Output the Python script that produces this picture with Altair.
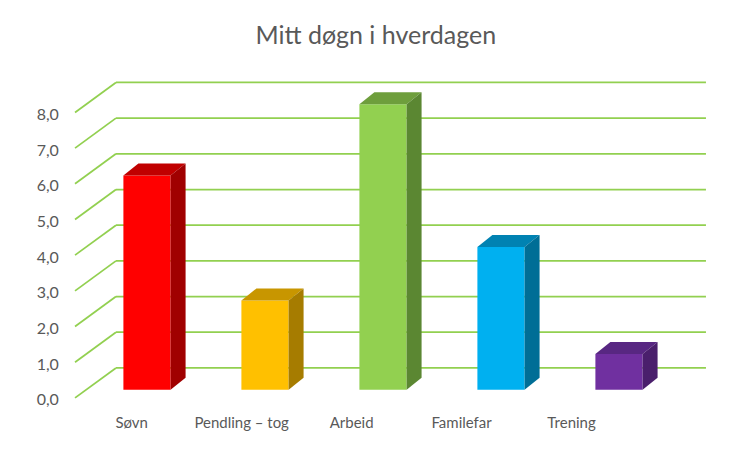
import altair as alt
import pandas as pd

# ---- data ----
categories = ["Søvn", "Pendling – tog", "Arbeid", "Familefar", "Trening"]
hours = [6.0, 2.5, 8.0, 4.0, 1.0]
front_colors = ["#FF0000", "#FFC000", "#92D050", "#00B0F0", "#7030A0"]
top_colors = ["#C00000", "#C89600", "#6E9E3C", "#0082B2", "#582782"]
side_colors = ["#A00000", "#A67C00", "#5B8732", "#006E96", "#4A1F6C"]
y_ticks = [0, 1, 2, 3, 4, 5, 6, 7, 8]
title_text = "Mitt døgn i hverdagen"

# ---- oblique projection constants (in scale units) ----
BAR_HALF = 0.2      # half width of a column front face (category units)
DEPTH_X = 0.127     # column depth shift in x
DEPTH_Y = 0.336     # column depth shift in y (value units)
BASE = 0.23         # column base, raised because columns sit behind the front plane
WALL_X = 0.347      # back wall shift in x
WALL_Y = 0.84       # back wall shift in y
WALL_LEFT = -0.61
WALL_RIGHT = 4.737
LABEL_X0 = -0.13
LABEL_STEP = 0.932
LABEL_Y = -0.70

GRID = "#92D050"
TEXT = "#595959"
FONT = "Lato"

xs = alt.Scale(domain=[-0.65, 4.85], nice=False, zero=False)
ys = alt.Scale(domain=[-1.0, 9.2], nice=False, zero=False)

# gridlines
grid_rows = []
for v in y_ticks:
    grid_rows.append({"v": v, "x": WALL_LEFT, "x2": WALL_LEFT + WALL_X,
                      "y": v, "y2": v + WALL_Y})
grid_df = pd.DataFrame(grid_rows)
back_df = pd.DataFrame({"v": y_ticks,
                        "x": [WALL_LEFT + WALL_X] * len(y_ticks),
                        "x2": [WALL_RIGHT] * len(y_ticks),
                        "y": [v + WALL_Y for v in y_ticks]})

# column faces
front_rows, top_rows, side_rows = [], [], []
for i, (c, h) in enumerate(zip(categories, hours)):
    top = BASE + h
    front_rows.append({"cat": c, "x": i - BAR_HALF, "x2": i + BAR_HALF,
                       "y": BASE, "y2": top, "col": front_colors[i]})
    x0, x1 = i - BAR_HALF, i + BAR_HALF
    top_rows += [
        {"cat": c, "x": x0, "lo": top, "hi": top, "col": top_colors[i]},
        {"cat": c, "x": x0 + DEPTH_X, "lo": top, "hi": top + DEPTH_Y, "col": top_colors[i]},
        {"cat": c, "x": x1, "lo": top, "hi": top + DEPTH_Y, "col": top_colors[i]},
        {"cat": c, "x": x1 + DEPTH_X, "lo": top + DEPTH_Y, "hi": top + DEPTH_Y, "col": top_colors[i]},
    ]
    side_rows += [
        {"cat": c, "x": x1, "lo": BASE, "hi": top, "col": side_colors[i]},
        {"cat": c, "x": x1 + DEPTH_X, "lo": BASE + DEPTH_Y, "hi": top + DEPTH_Y, "col": side_colors[i]},
    ]
front_df = pd.DataFrame(front_rows)
top_df = pd.DataFrame(top_rows)
side_df = pd.DataFrame(side_rows)
label_df = pd.DataFrame({"cat": categories,
                         "x": [LABEL_X0 + LABEL_STEP * i for i in range(len(categories))],
                         "y": [LABEL_Y] * len(categories)})

yaxis = alt.Axis(values=y_ticks, labelExpr="replace(format(datum.value, '.1f'), '.', ',')",
                 domain=False, ticks=False, grid=False, title=None, labelPadding=12,
                 labelOffset=2, labelFontSize=16, labelColor=TEXT, labelFont=FONT)

diag = alt.Chart(grid_df).mark_rule(color=GRID, strokeWidth=1.75).encode(
    x=alt.X("x:Q", scale=xs, axis=None), x2="x2:Q",
    y=alt.Y("y:Q", scale=ys, axis=yaxis), y2="y2:Q")

back = alt.Chart(back_df).mark_rule(color=GRID, strokeWidth=1.75).encode(
    x=alt.X("x:Q", scale=xs, axis=None), x2="x2:Q",
    y=alt.Y("y:Q", scale=ys, axis=yaxis))

front = alt.Chart(front_df).mark_rect().encode(
    x=alt.X("x:Q", scale=xs, axis=None), x2="x2:Q",
    y=alt.Y("y:Q", scale=ys, axis=yaxis), y2="y2:Q",
    color=alt.Color("col:N", scale=None))

topf = alt.Chart(top_df).mark_area().encode(
    x=alt.X("x:Q", scale=xs, axis=None),
    y=alt.Y("lo:Q", scale=ys, axis=yaxis), y2="hi:Q",
    detail="cat:N",
    color=alt.Color("col:N", scale=None))

sidef = alt.Chart(side_df).mark_area().encode(
    x=alt.X("x:Q", scale=xs, axis=None),
    y=alt.Y("lo:Q", scale=ys, axis=yaxis), y2="hi:Q",
    detail="cat:N",
    color=alt.Color("col:N", scale=None))

labels = alt.Chart(label_df).mark_text(fontSize=15, color=TEXT, font=FONT,
                                       align="center", baseline="middle").encode(
    x=alt.X("x:Q", scale=xs, axis=None),
    y=alt.Y("y:Q", scale=ys, axis=yaxis),
    text="cat:N")

chart = alt.layer(diag, back, front, topf, sidef, labels).properties(
    width=649, height=364,
    autosize=alt.AutoSizeParams(type="none"),
    padding={"left": 62.3, "top": 61.6, "right": 10, "bottom": 10},
    title=alt.TitleParams(title_text, font=FONT, fontSize=25, fontWeight="normal",
                          color=TEXT, anchor="middle", dx=-19, offset=21),
    background="white",
).configure_view(stroke=None)

chart.save("out.html", embed_options={"renderer": "svg", "actions": False})
